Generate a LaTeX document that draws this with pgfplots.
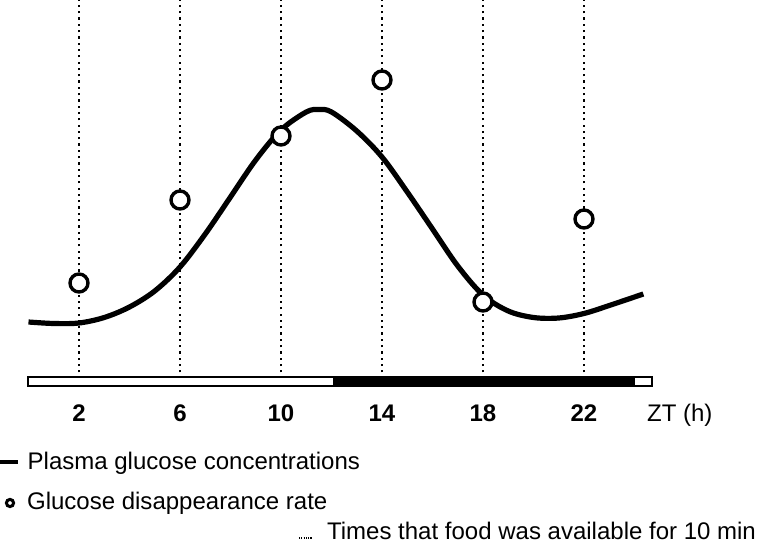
\documentclass[border=0pt]{standalone}
\usepackage{fontspec}
\setmainfont{Liberation Sans}
\usepackage{pgfplots}
\pgfplotsset{compat=1.18}
\begin{document}
\fontsize{12.05}{14}\selectfont
\begin{tikzpicture}
\clip (0,0) rectangle (380bp,272bp);
\begin{axis}[at={(0,0)}, anchor=south west, scale only axis,
  width=380bp, height=272bp,
  xmin=-1.1287, xmax=28.9703, ymin=0, ymax=544,
  clip=false,
  axis line style={draw=none}, major tick length=0pt,
  ytick=\empty,
  xtick={2,6,10,14,18,22},
  xticklabels={\textbf{2},\textbf{6},\textbf{10},\textbf{14},\textbf{18},\textbf{22}},
  xticklabel style={anchor=base, yshift=61.25bp, inner sep=0pt},
]
% plasma glucose curve (y = 544 - pixel row)
\addplot[black, line width=2.6bp, smooth, tension=0.55] coordinates {
(0,222) (1,220.5) (2,221) (3,226.5) (4,237) (5,253) (6,277) (7,310) (8,347)
(9,384) (10,414) (11,432) (11.5,434.5) (12,432) (13,413) (14,387) (15,352)
(16,315) (17,278) (18,249) (19,233) (20,226.5) (21,226) (22,230.5) (23,238.5)
(24,247) (24.35,250)};
% glucose disappearance rate
\addplot[only marks, mark=*, mark size=4.5bp,
  mark options={draw=black, fill=white, line width=1.7bp}] coordinates {
(2,261) (6,344) (10,408) (14,464) (18,242) (22,325)};
% feeding times
\pgfplotsinvokeforeach{2,6,10,14,18,22}{
  \addplot[black, line width=1.1bp, dash pattern=on 1.1bp off 2.05bp] coordinates {(#1,171.5) (#1,548)};
}
% light/dark bar
\draw[black, line width=1bp, fill=white] (axis cs:-0.02,158.3) rectangle (axis cs:24.71,167);
\fill[black] (axis cs:12.05,158.3) rectangle (axis cs:24.02,167);
\draw[black, line width=1bp] (axis cs:-0.02,158.3) rectangle (axis cs:24.71,167);
\end{axis}
\begin{scope}[x=0.5bp, y=-0.5bp, shift={(0,272bp)}]
\node[anchor=base west, inner sep=0pt] at (646.7,421.5) {ZT (h)};
\draw[line width=2bp] (-2,461.7) -- (18,461.7);
\node[anchor=base west, inner sep=0pt] at (27.3,470) {Plasma glucose concentrations};
\draw[line width=1.5bp] (10,503) circle (3.6);
\node[anchor=base west, inner sep=0pt] at (26.7,510) {Glucose disappearance rate};
\draw[line width=1bp, dash pattern=on 0.55bp off 0.6bp] (299,538.5) -- (312,538.5);
\node[anchor=base west, inner sep=0pt] at (326.7,540) {Times that food was available for 10 min};
\end{scope}
\end{tikzpicture}
\end{document}
